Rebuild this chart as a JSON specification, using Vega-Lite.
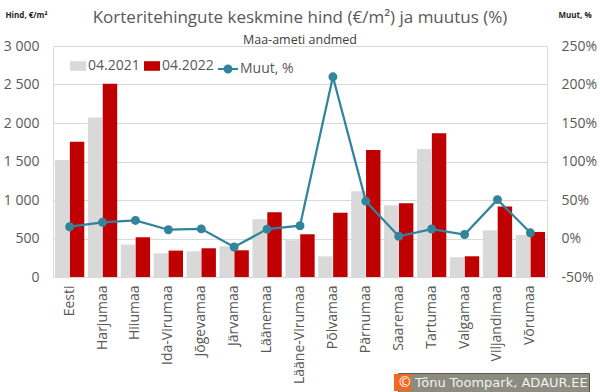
{
  "$schema": "https://vega.github.io/schema/vega-lite/v6.json",
  "width": 494,
  "height": 231,
  "autosize": {"type": "none"},
  "padding": {"left": 53, "top": 46, "right": 53, "bottom": 115},
  "background": "white",
  "datasets": {
    "prices": [
      {"region": "Eesti", "period": "04.2021", "price": 1520},
      {"region": "Eesti", "period": "04.2022", "price": 1755},
      {"region": "Harjumaa", "period": "04.2021", "price": 2070},
      {"region": "Harjumaa", "period": "04.2022", "price": 2510},
      {"region": "Hiiumaa", "period": "04.2021", "price": 421},
      {"region": "Hiiumaa", "period": "04.2022", "price": 516},
      {"region": "Ida-Virumaa", "period": "04.2021", "price": 308},
      {"region": "Ida-Virumaa", "period": "04.2022", "price": 343},
      {"region": "Jõgevamaa", "period": "04.2021", "price": 334},
      {"region": "Jõgevamaa", "period": "04.2022", "price": 373},
      {"region": "Järvamaa", "period": "04.2021", "price": 399},
      {"region": "Järvamaa", "period": "04.2022", "price": 347},
      {"region": "Läänemaa", "period": "04.2021", "price": 750},
      {"region": "Läänemaa", "period": "04.2022", "price": 840},
      {"region": "Lääne-Virumaa", "period": "04.2021", "price": 477},
      {"region": "Lääne-Virumaa", "period": "04.2022", "price": 555},
      {"region": "Põlvamaa", "period": "04.2021", "price": 269},
      {"region": "Põlvamaa", "period": "04.2022", "price": 836},
      {"region": "Pärnumaa", "period": "04.2021", "price": 1113},
      {"region": "Pärnumaa", "period": "04.2022", "price": 1650},
      {"region": "Saaremaa", "period": "04.2021", "price": 931},
      {"region": "Saaremaa", "period": "04.2022", "price": 957},
      {"region": "Tartumaa", "period": "04.2021", "price": 1663},
      {"region": "Tartumaa", "period": "04.2022", "price": 1867},
      {"region": "Valgamaa", "period": "04.2021", "price": 256},
      {"region": "Valgamaa", "period": "04.2022", "price": 269},
      {"region": "Viljandimaa", "period": "04.2021", "price": 606},
      {"region": "Viljandimaa", "period": "04.2022", "price": 914},
      {"region": "Võrumaa", "period": "04.2021", "price": 546},
      {"region": "Võrumaa", "period": "04.2022", "price": 585}
    ],
    "change": [
      {"region": "Eesti", "change": 15.3},
      {"region": "Harjumaa", "change": 21},
      {"region": "Hiiumaa", "change": 23.5},
      {"region": "Ida-Virumaa", "change": 11.4},
      {"region": "Jõgevamaa", "change": 12.5},
      {"region": "Järvamaa", "change": -11},
      {"region": "Läänemaa", "change": 12.2},
      {"region": "Lääne-Virumaa", "change": 16.6},
      {"region": "Põlvamaa", "change": 210},
      {"region": "Pärnumaa", "change": 48.5},
      {"region": "Saaremaa", "change": 2.8},
      {"region": "Tartumaa", "change": 12.3},
      {"region": "Valgamaa", "change": 5.2},
      {"region": "Viljandimaa", "change": 50.5},
      {"region": "Võrumaa", "change": 7.4}
    ]
  },
  "title": {
    "text": "Korteritehingute keskmine hind (€/m²) ja muutus (%)",
    "subtitle": "Maa-ameti andmed",
    "anchor": "middle",
    "frame": "group",
    "font": "Open Sans",
    "fontSize": 17,
    "fontWeight": "normal",
    "color": "#595959",
    "subtitleFont": "Open Sans",
    "subtitleFontSize": 12.5,
    "subtitleColor": "#404040",
    "subtitlePadding": 7,
    "offset": -36
  },
  "encoding": {
    "x": {
      "field": "region",
      "type": "nominal",
      "sort": null,
      "scale": {
        "domain": ["Eesti", "Harjumaa", "Hiiumaa", "Ida-Virumaa", "Jõgevamaa", "Järvamaa", "Läänemaa", "Lääne-Virumaa", "Põlvamaa", "Pärnumaa", "Saaremaa", "Tartumaa", "Valgamaa", "Viljandimaa", "Võrumaa"],
        "paddingInner": 0.11,
        "paddingOuter": 0.06
      },
      "axis": {
        "title": null,
        "labelAngle": -90,
        "labelFontSize": 14,
        "labelColor": "#595959",
        "ticks": false,
        "tickSize": 0,
        "labelPadding": 8,
        "domainColor": "#D9D9D9",
        "grid": false
      }
    }
  },
  "layer": [
    {
      "data": {"name": "prices"},
      "mark": {"type": "bar"},
      "encoding": {
        "xOffset": {"field": "period", "type": "nominal", "scale": {"paddingInner": 0.03}},
        "y": {
          "field": "price",
          "type": "quantitative",
          "scale": {"domain": [0, 3000], "nice": false},
          "axis": {
            "values": [0, 500, 1000, 1500, 2000, 2500, 3000],
            "labelExpr": "replace(format(datum.value, ','), ',', ' ')",
            "title": "Hind, €/m²",
            "titleAngle": 0,
            "titleX": -48,
            "titleY": -31,
            "titleAlign": "left",
            "titleBaseline": "middle",
            "titleFontSize": 8,
            "titleFontWeight": "bold",
            "titleColor": "#262626",
            "grid": true,
            "gridColor": "#D9D9D9",
            "domainColor": "#D9D9D9",
            "ticks": false,
            "tickSize": 0,
            "labelPadding": 14,
            "labelFontSize": 14,
            "labelColor": "#595959"
          }
        },
        "fill": {
          "field": "period",
          "type": "nominal",
          "scale": {"domain": ["04.2021", "04.2022"], "range": ["#D9D9D9", "#C00000"]},
          "legend": {
            "orient": "none",
            "legendX": 17,
            "legendY": 12,
            "direction": "horizontal",
            "title": null,
            "symbolType": "M-1,-0.6H1V0.6H-1Z",
            "symbolSize": 256,
            "symbolStrokeWidth": 0,
            "labelFontSize": 14,
            "labelColor": "#595959",
            "labelOffset": 2,
            "columnPadding": 4
          }
        }
      }
    },
    {
      "data": {"name": "change"},
      "encoding": {
        "y": {
          "field": "change",
          "type": "quantitative",
          "scale": {"domain": [-50, 250], "nice": false},
          "axis": {
            "orient": "right",
            "values": [-50, 0, 50, 100, 150, 200, 250],
            "labelExpr": "datum.value + '%'",
            "title": "Muut, %",
            "titleAngle": 0,
            "titleX": 11,
            "titleY": -31,
            "titleAlign": "left",
            "titleBaseline": "middle",
            "titleFontSize": 8,
            "titleFontWeight": "bold",
            "titleColor": "#262626",
            "grid": false,
            "domainColor": "#D9D9D9",
            "ticks": false,
            "tickSize": 0,
            "labelPadding": 14,
            "labelFontSize": 14,
            "labelColor": "#595959"
          }
        }
      },
      "layer": [
        {
          "mark": {"type": "line", "strokeWidth": 2.25},
          "encoding": {
            "stroke": {
              "datum": "Muut, %",
              "scale": {"range": ["#31849B"]},
              "legend": {
                "orient": "none",
                "legendX": 164,
                "legendY": 12,
                "title": null,
                "symbolType": "M-1,0L1,0M0.35,0A0.35,0.35,0,1,1,-0.35,0A0.35,0.35,0,1,1,0.35,0Z",
                "symbolSize": 400,
                "symbolStrokeWidth": 2,
                "symbolFillColor": "#31849B",
                "labelFontSize": 14,
                "labelColor": "#595959",
                "labelOffset": 1
              }
            }
          }
        },
        {
          "mark": {"type": "point", "filled": true, "size": 80, "opacity": 1, "fill": "#31849B"}
        },
        {
          "mark": {"type": "point", "filled": true, "size": 0, "opacity": 1, "fill": "#F26722", "shape": "square"},
          "encoding": {
            "shape": {
              "datum": "Tõnu Toompark, ADAUR.EE",
              "scale": {"range": ["square"]},
              "legend": {
                "orient": "none",
                "legendX": 345,
                "legendY": 327,
                "title": "©",
                "titleOrient": "left",
                "titleColor": "white",
                "titleFontSize": 14,
                "titleFontWeight": "normal",
                "titlePadding": -17,
                "fillColor": "#8C8C80",
                "strokeColor": "#5A5A5A",
                "padding": 1,
                "symbolSize": 289,
                "symbolStrokeWidth": 0,
                "labelColor": "#F2F2F2",
                "labelFont": "DejaVu Sans",
                "labelFontSize": 13,
                "labelOffset": 4,
                "labelLimit": 300
              }
            }
          }
        }
      ]
    }
  ],
  "resolve": {"scale": {"y": "independent"}},
  "config": {
    "font": "Open Sans",
    "view": {"stroke": null}
  }
}
